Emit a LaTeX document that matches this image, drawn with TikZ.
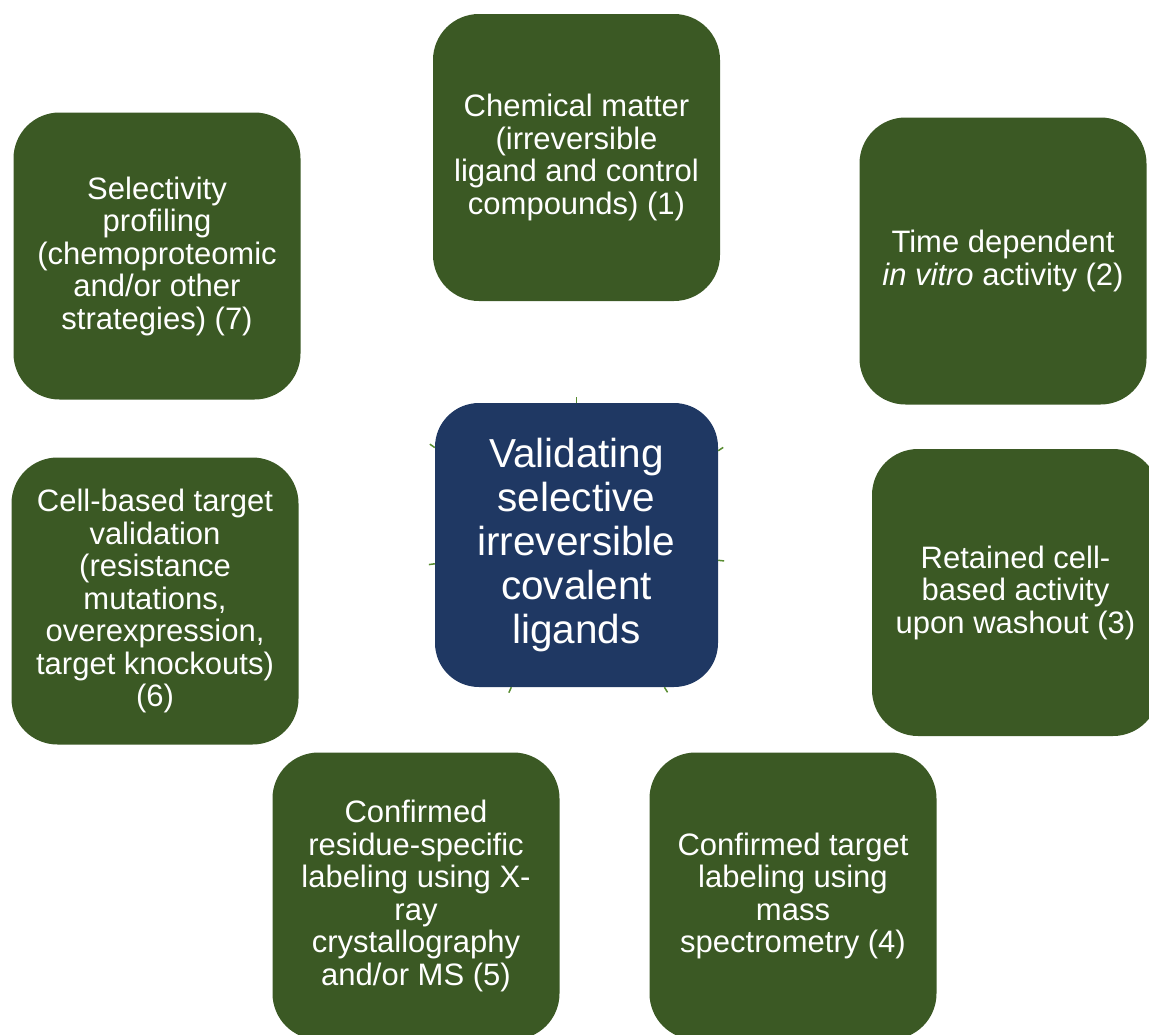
\documentclass[tikz,border=0pt]{standalone}
\usepackage{fontspec}
\setmainfont{Liberation Sans}
\usetikzlibrary{calc}
\definecolor{boxgreen}{RGB}{59,89,36}
\definecolor{hubblue}{RGB}{31,56,99}
\definecolor{stubgreen}{RGB}{88,140,48}

\begin{document}
\begin{tikzpicture}[x=1pt,y=-1pt,
  item/.style={fill=boxgreen, rounded corners=46pt, minimum width=287pt,
    minimum height=287pt, inner sep=0pt, text=white, align=center,
    font=\fontsize{31}{32.5}\selectfont},
  hub/.style={fill=hubblue, rounded corners=44pt, minimum width=283pt,
    minimum height=284pt, inner sep=0pt, text=white, align=center,
    font=\fontsize{40.5}{44}\selectfont},
  stub/.style={draw=stubgreen, line width=1.5pt}]

  \useasboundingbox (0,0) rectangle (1149,1034);
  \clip (0,0) rectangle (1149,1034);

  % outer requirement boxes
  \node[item] (n1) at (576.5,157.5) {Chemical matter\\(irreversible\\ligand and control\\compounds) (1)};
  \node[item] (n2) at (1003,261) {Time dependent\\\textit{in vitro} activity (2)};
  \node[item] (n3) at (1015.5,592.5) {Retained cell-\\based activity\\upon washout (3)};
  \node[item] (n4) at (793,896) {Confirmed target\\labeling using\\mass\\spectrometry (4)};
  \node[item] (n5) at (416,896) {Confirmed\\residue-specific\\labeling using X-\\ray\\crystallography\\and/or MS (5)};
  \node[item] (n6) at (155,601) {Cell-based target\\validation\\(resistance\\mutations,\\overexpression,\\target knockouts)\\(6)};
  \node[item] (n7) at (157,256) {Selectivity\\profiling\\(chemoproteomic\\and/or other\\strategies) (7)};

  % central hub
  \node[hub] (hub) at (576.5,545) {Validating\\selective\\irreversible\\covalent\\ligands};

  % short spokes leaving the hub towards each box
  \foreach \i in {1,...,7} {
    \path (hub) -- (n\i) coordinate[pos=0] (a\i);
    \coordinate (b\i) at ($(a\i)!6pt!(n\i)$);
    \draw[stub] (a\i) -- (b\i);
  }
\end{tikzpicture}
\end{document}
